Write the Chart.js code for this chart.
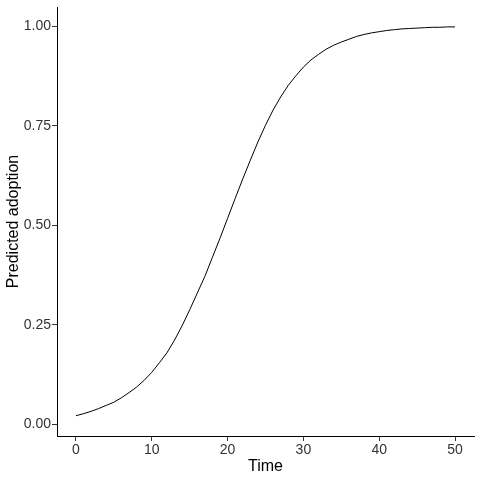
<!DOCTYPE html>
<html>
<head>
<meta charset="utf-8">
<script src="https://cdn.jsdelivr.net/npm/chart.js@4.4.1/dist/chart.umd.min.js"></script>
<style>
  html, body { margin: 0; padding: 0; background: #fff; }
  #wrap { width: 480px; height: 480px; }
</style>
</head>
<body>
<div id="wrap"><canvas id="adoption-chart" width="480" height="480"></canvas></div>
<script>
// values
const timePoints = [0, 1, 2, 3, 4, 5, 6, 7, 8, 9, 10, 11, 12, 13, 14, 15, 16, 17, 18, 19, 20,
    21, 22, 23, 24, 25, 26, 27, 28, 29, 30, 31, 32, 33, 34, 35, 36, 37, 38, 39, 40,
    41, 42, 43, 44, 45, 46, 47, 48, 49, 50];
const adoption = [0.022, 0.027, 0.033, 0.040, 0.048, 0.056, 0.067, 0.080, 0.094, 0.111, 0.131,
    0.155, 0.180, 0.212, 0.248, 0.288, 0.330, 0.372, 0.420, 0.468, 0.518,
    0.568, 0.617, 0.664, 0.710, 0.752, 0.790, 0.823, 0.852, 0.876, 0.898,
    0.916, 0.930, 0.943, 0.953, 0.961, 0.968, 0.975, 0.980, 0.984, 0.987,
    0.990, 0.992, 0.994, 0.995, 0.996, 0.997, 0.998, 0.998, 0.999, 0.999];
const xTicks = [0, 10, 20, 30, 40, 50];
const yTicks = [0, 0.25, 0.5, 0.75, 1];

const axisText = '#333333';
const fontFamily = '"Liberation Sans", Arial, sans-serif';

new Chart(document.getElementById('adoption-chart'), {
    type: 'scatter',
    data: {
        datasets: [{
            data: timePoints.map((t, i) => ({ x: t, y: adoption[i] })),
            showLine: true,
            borderColor: '#000',
            borderWidth: 1,
            pointRadius: 0,
            tension: 0
        }]
    },
    options: {
        responsive: false,
        animation: false,
        layout: { padding: { top: 7, right: 6, left: 0, bottom: 0 } },
        plugins: { legend: { display: false }, tooltip: { enabled: false } },
        scales: {
            x: {
                type: 'linear',
                min: -2.5,
                max: 52.5,
                afterBuildTicks: s => { s.ticks = xTicks.map(v => ({ value: v })); },
                afterFit: s => {
                    s.height = 44;
                    s.paddingLeft = 0;
                    s.paddingRight = 0;
                },
                border: { display: true, color: '#000', width: 1 },
                grid: { drawOnChartArea: false, drawTicks: true, tickLength: 5, tickColor: '#333' },
                ticks: {
                    color: axisText,
                    padding: 1,
                    maxRotation: 0,
                    font: { family: fontFamily, size: 14 },
                    callback: v => String(v)
                },
                title: {
                    display: true,
                    text: 'Time',
                    color: '#000',
                    font: { family: fontFamily, size: 16 },
                    padding: { top: 0, bottom: 4 }
                }
            },
            y: {
                type: 'linear',
                min: -0.029,
                max: 1.049,
                afterBuildTicks: s => { s.ticks = yTicks.map(v => ({ value: v })); },
                afterFit: s => {
                    s.width = 57;
                    s.paddingTop = 0;
                    s.paddingBottom = 0;
                },
                border: { display: true, color: '#000', width: 1 },
                grid: { drawOnChartArea: false, drawTicks: true, tickLength: 5, tickColor: '#333' },
                ticks: {
                    color: axisText,
                    padding: 1,
                    font: { family: fontFamily, size: 14 },
                    callback: v => v.toFixed(2)
                },
                title: {
                    display: true,
                    text: 'Predicted adoption',
                    color: '#000',
                    font: { family: fontFamily, size: 16 },
                    padding: { top: 4, bottom: 0 }
                }
            }
        }
    }
});
</script>
</body>
</html>
